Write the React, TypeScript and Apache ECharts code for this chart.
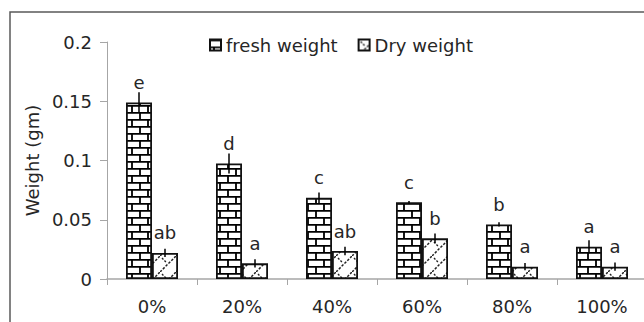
import React, { useEffect, useRef } from "react";
import * as echarts from "echarts";

const categories = ["0%", "20%", "40%", "60%", "80%", "100%"];
const freshWeight = [0.149, 0.0975, 0.0685, 0.0647, 0.046, 0.0273];
const dryWeight = [0.022, 0.0132, 0.0236, 0.0343, 0.0104, 0.0104];
const freshError = [0.0085, 0.0085, 0.0045, 0.0012, 0.0018, 0.0055];
const dryError = [0.0035, 0.0035, 0.0036, 0.004, 0.003, 0.0035];
const freshLetters = ["e", "d", "c", "c", "b", "a"];
const dryLetters = ["ab", "a", "ab", "b", "a", "a"];
const yTicks = { min: 0, max: 0.2, interval: 0.05 };

const FONT = "DejaVu Sans";
const TEXT = "#262626";
const AXIS = "#a6a6a6";
const BAR_W = 26;

const svgUrl = (s: string) => "data:image/svg+xml;charset=utf-8," + encodeURIComponent(s);

const brickSvg =
  "<svg xmlns='http://www.w3.org/2000/svg' width='16' height='14'>" +
  "<rect width='16' height='14' fill='white'/>" +
  "<path d='M0 0.9H16M0 7.9H16M12 0V7.9M4 7.9V14' stroke='black' stroke-width='1.8' fill='none'/>" +
  "</svg>";

const crossSvg =
  "<svg xmlns='http://www.w3.org/2000/svg' width='16' height='16'>" +
  "<rect width='16' height='16' fill='white'/>" +
  "<path d='M0 16L16 0' stroke='#222' stroke-width='1.5' stroke-dasharray='2.5 1.5' fill='none'/>" +
  "<path d='M2 2L7 7' stroke='#222' stroke-width='1.4' stroke-dasharray='2 1.5' fill='none'/>" +
  "</svg>";

const brickPattern: any = { image: svgUrl(brickSvg), repeat: "repeat", imageWidth: 16, imageHeight: 14 };
const crossPattern: any = { image: svgUrl(crossSvg), repeat: "repeat", imageWidth: 16, imageHeight: 16 };

function errorSeries(name: string, values: number[], errors: number[], offset: number) {
  return {
    type: "custom",
    name: name + "-err",
    silent: true,
    z: 5,
    data: values.map((v, i) => [i, v, errors[i]]),
    renderItem: (params: any, api: any) => {
      const c = api.value(0);
      const v = api.value(1);
      const e = api.value(2);
      const top = api.coord([c, v + e]);
      const bot = api.coord([c, v - e]);
      return {
        type: "line",
        shape: { x1: top[0] + offset, y1: top[1], x2: bot[0] + offset, y2: bot[1] },
        style: { stroke: "#000", lineWidth: 1.5 },
      };
    },
  };
}

export default function App() {
  const ref = useRef<HTMLDivElement>(null);
  useEffect(() => {
    if (!ref.current) return;
    const chart = echarts.init(ref.current, null, { renderer: "svg" });
    const labelStyle = { fontFamily: FONT, fontSize: 18, color: TEXT };
    chart.setOption({
      animation: false,
      backgroundColor: "#fff",
      textStyle: { fontFamily: FONT },
      graphic: [
        {
          type: "rect",
          shape: { x: 10, y: 12, width: 700, height: 400 },
          style: { fill: "none", stroke: "#595959", lineWidth: 1.5 },
          silent: true,
        },
      ],
      legend: {
        data: ["fresh weight", "Dry weight"],
        left: 204,
        top: 31,
        icon: "rect",
        itemWidth: 11,
        itemHeight: 11,
        itemGap: 20,
        textStyle: { fontFamily: FONT, fontSize: 18, color: TEXT },
      },
      grid: { left: 107, top: 42, width: 540, height: 237, outerBoundsMode: "none" },
      xAxis: {
        type: "category",
        data: categories,
        axisLine: { lineStyle: { color: AXIS, width: 1.5 } },
        axisTick: { show: true, length: 6, lineStyle: { color: AXIS } },
        axisLabel: { margin: 18, ...labelStyle },
      },
      yAxis: {
        type: "value",
        min: yTicks.min,
        max: yTicks.max,
        interval: yTicks.interval,
        name: "Weight (gm)",
        nameLocation: "middle",
        nameGap: 65,
        nameTextStyle: { ...labelStyle },
        axisLine: { show: true, lineStyle: { color: AXIS, width: 1 } },
        axisTick: { show: true, length: 7, lineStyle: { color: AXIS } },
        splitLine: { show: false },
        axisLabel: { margin: 15, ...labelStyle },
      },
      series: [
        {
          type: "bar",
          name: "fresh weight",
          data: freshWeight,
          barWidth: BAR_W,
          barGap: "0%",
          itemStyle: { color: brickPattern, borderColor: "#111", borderWidth: 1.8 },
          label: {
            show: true,
            position: "top",
            distance: 11,
            formatter: (p: any) => freshLetters[p.dataIndex],
            ...labelStyle,
          },
        },
        {
          type: "bar",
          name: "Dry weight",
          data: dryWeight,
          barWidth: BAR_W,
          barGap: "0%",
          itemStyle: { color: crossPattern, borderColor: "#111", borderWidth: 1.8 },
          label: {
            show: true,
            position: "top",
            distance: 11,
            formatter: (p: any) => dryLetters[p.dataIndex],
            ...labelStyle,
          },
        },
        errorSeries("fresh", freshWeight, freshError, -BAR_W / 2),
        errorSeries("dry", dryWeight, dryError, BAR_W / 2),
      ],
    });
    return () => chart.dispose();
  }, []);
  return (
    <div
      ref={ref}
      style={{ position: "fixed", left: 0, top: 0, width: 644, height: 322, background: "#fff" }}
    />
  );
}
